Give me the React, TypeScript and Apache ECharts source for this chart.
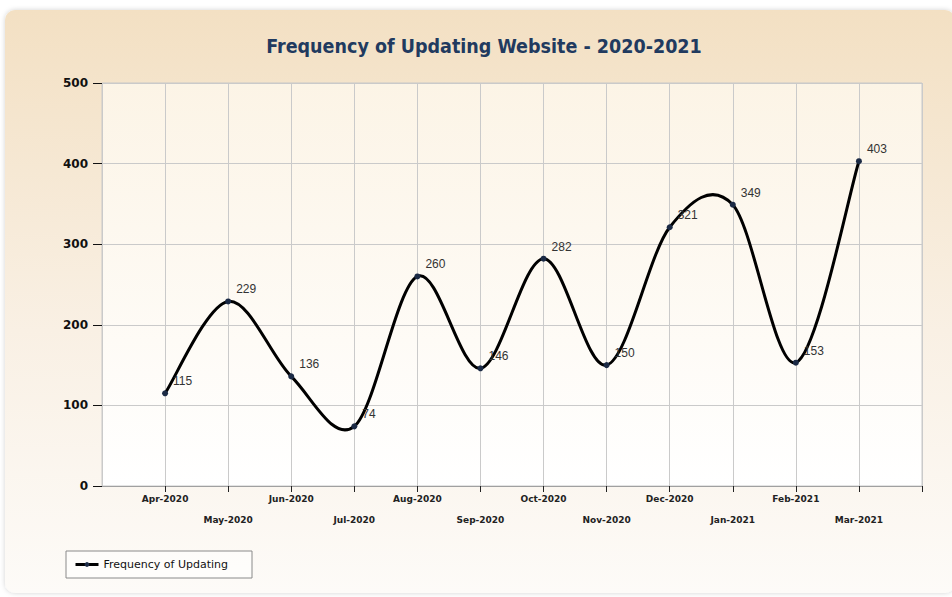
import React, { useEffect, useRef } from "react";
import * as echarts from "echarts";

const titleText = "Frequency of Updating Website - 2020-2021";
const seriesName = "Frequency of Updating";
const months = [
  "Apr-2020", "May-2020", "Jun-2020", "Jul-2020", "Aug-2020", "Sep-2020",
  "Oct-2020", "Nov-2020", "Dec-2020", "Jan-2021", "Feb-2021", "Mar-2021",
];
const values = [115, 229, 136, 74, 260, 146, 282, 150, 321, 349, 153, 403];
const yMin = 0;
const yMax = 500;
const yInterval = 100;

export default function App() {
  const ref = useRef<HTMLDivElement>(null);

  useEffect(() => {
    if (!ref.current) return;
    const chart = echarts.init(ref.current, null, { renderer: "svg" });
    const categories = ["", ...months, ""];
    const data: (number | null)[] = [null, ...values, null];
    const n = values.length;

    // Catmull-Rom spline segments drawn through the axis scales
    const renderSegment = (params: any, api: any) => {
      const i = params.dataIndex;
      if (i >= n - 1) return null;
      const pt = (k: number) => {
        const kk = Math.max(0, Math.min(n - 1, k));
        return api.coord([kk + 1, values[kk]]);
      };
      const p0 = pt(i - 1);
      const p1 = pt(i);
      const p2 = pt(i + 1);
      const p3 = pt(i + 2);
      return {
        type: "bezierCurve",
        shape: {
          x1: p1[0],
          y1: p1[1],
          x2: p2[0],
          y2: p2[1],
          cpx1: p1[0] + (p2[0] - p0[0]) / 6,
          cpy1: p1[1] + (p2[1] - p0[1]) / 6,
          cpx2: p2[0] - (p3[0] - p1[0]) / 6,
          cpy2: p2[1] - (p3[1] - p1[1]) / 6,
        },
        style: { stroke: "#000", lineWidth: 3, fill: "none", lineCap: "round" },
      };
    };

    chart.setOption({
      animation: false,
      graphic: [
        {
          type: "rect",
          z: -10,
          silent: true,
          shape: { x: 5, y: 10, width: 950, height: 583, r: 10 },
          style: {
            fill: new echarts.graphic.LinearGradient(0, 0, 0, 1, [
              { offset: 0, color: "#f3e0c3" },
              { offset: 0.55, color: "#f9f0e4" },
              { offset: 1, color: "#fdfbf8" },
            ]),
            shadowBlur: 5,
            shadowColor: "rgba(0,0,0,0.18)",
          },
        },
      ],
      title: {
        text: titleText,
        left: 479,
        textAlign: "center",
        top: 31,
        textStyle: {
          fontFamily: "DejaVu Sans Condensed",
          fontWeight: "bold",
          fontSize: 19.5,
          color: "#213a5f",
        },
      },
      legend: {
        left: 66,
        top: 551,
        orient: "horizontal",
        padding: [7, 24, 7, 8],
        itemWidth: 23,
        itemHeight: 6,
        borderColor: "#8a8a8a",
        borderWidth: 1,
        backgroundColor: "rgba(255,255,255,0.5)",
        lineStyle: { opacity: 1, color: "#000", width: 3 },
        textStyle: { fontFamily: "DejaVu Sans", fontSize: 11, color: "#111", lineHeight: 13 },
        data: [seriesName],
      },
      grid: {
        left: 102,
        top: 83,
        width: 820,
        height: 403,
        show: true,
        borderColor: "#c9c9c9",
        borderWidth: 1,
        backgroundColor: new echarts.graphic.LinearGradient(0, 0, 0, 1, [
          { offset: 0, color: "#fcf4e6" },
          { offset: 1, color: "#ffffff" },
        ]),
      },
      xAxis: {
        type: "category",
        boundaryGap: false,
        data: categories,
        axisLine: { lineStyle: { color: "#a0a0a0", width: 1 } },
        axisTick: {
          show: true,
          length: 6,
          interval: (index: number) => index !== 0,
          lineStyle: { color: "#222" },
        },
        splitLine: { show: true, lineStyle: { color: "#cacaca", width: 1 } },
        axisLabel: {
          interval: 0,
          margin: 2,
          fontFamily: "DejaVu Sans",
          fontWeight: "bold",
          fontSize: 9,
          color: "#222",
          lineHeight: 21,
          formatter: (value: string, index: number) =>
            index % 2 === 1 ? value : "\n" + value,
        },
      },
      yAxis: {
        type: "value",
        min: yMin,
        max: yMax,
        interval: yInterval,
        axisLine: { show: false },
        axisTick: { show: true, length: 9, lineStyle: { color: "#111" } },
        splitLine: { show: true, lineStyle: { color: "#cacaca", width: 1 } },
        axisLabel: {
          margin: 14,
          fontFamily: "DejaVu Sans",
          fontWeight: "bold",
          fontSize: 12,
          color: "#111",
        },
      },
      series: [
        {
          name: "curve",
          type: "custom",
          z: 2,
          silent: true,
          data: values.map((v, i) => [i + 1, v]),
          renderItem: renderSegment,
        },
        {
          name: seriesName,
          type: "line",
          z: 3,
          data,
          symbol: "circle",
          symbolSize: 6,
          lineStyle: { color: "#000", width: 3, opacity: 0 },
          itemStyle: { color: "#1b2a45" },
          label: {
            show: true,
            position: "right",
            distance: 5,
            offset: [0, -12],
            fontFamily: "Liberation Sans",
            fontSize: 12,
            color: "#333",
          },
        },
      ],
    });
    return () => chart.dispose();
  }, []);

  return (
    <div
      ref={ref}
      style={{ position: "fixed", left: 0, top: 0, width: 952, height: 597, background: "#fff" }}
    />
  );
}
